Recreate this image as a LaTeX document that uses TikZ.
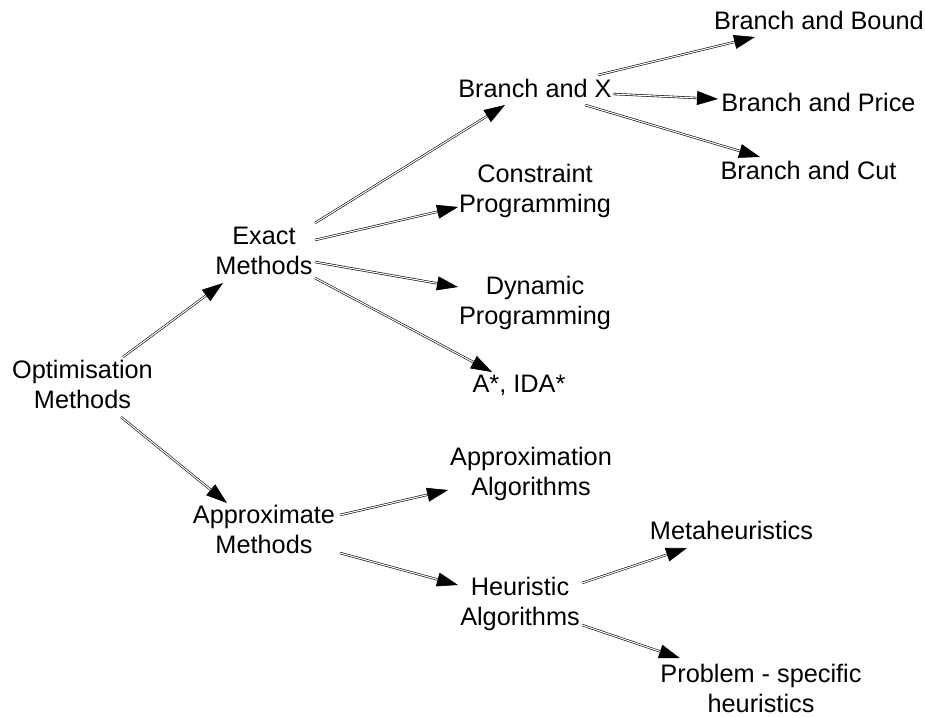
\documentclass[tikz,border=0pt]{standalone}
\usepackage{fontspec}
\setmainfont{Liberation Sans}
\usetikzlibrary{arrows.meta}
\begin{document}
\begin{tikzpicture}[x=1pt,y=-1pt,
  lbl/.style={align=center, inner sep=0pt, font=\fontsize{25.3}{30}\selectfont},
  conn/.style={draw=black, line width=0.6pt, double=white, double distance=1.1pt,
    -{Triangle[length=21pt,width=14pt]}}]
\useasboundingbox (0,0) rectangle (925,717);
\node[lbl] (opt) at (82.5,384.3) {Optimisation\\Methods};
\node[lbl] (exact) at (264,250.8) {Exact\\Methods};
\node[lbl] (approx) at (264,529.8) {Approximate\\Methods};
\node[lbl] (bx) at (535,88.8) {Branch and X};
\node[lbl] (cp) at (535,190.5) {Constraint\\Programming};
\node[lbl] (dp) at (535,302.5) {Dynamic\\Programming};
\node[lbl] (astar) at (519,385.3) {A*, IDA*};
\node[lbl] (bound) at (819,20.8) {Branch and Bound};
\node[lbl] (price) at (818.5,102.8) {Branch and Price};
\node[lbl] (cut) at (808.5,170.8) {Branch and Cut};
\node[lbl] (aalg) at (531,473.5) {Approximation\\Algorithms};
\node[lbl] (heur) at (520,603.5) {Heuristic\\Algorithms};
\node[lbl] (meta) at (731.5,530.8) {Metaheuristics};
\node[lbl] (prob) at (761,688.5) {Problem - specific\\heuristics};

\draw[conn] ([shift={(40.5,-27.3)}]opt.center) -- ([shift={(-41,32.2)}]exact.center);
\draw[conn] ([shift={(38.5,32.7)}]opt.center) -- ([shift={(-37,-26.8)}]approx.center);
\draw[conn] ([shift={(51,-27.8)}]exact.center) -- ([shift={(-30,16.2)}]bx.center);
\draw[conn] ([shift={(51,-10.8)}]exact.center) -- ([shift={(-77,16.5)}]cp.center);
\draw[conn] ([shift={(51,11.2)}]exact.center) -- ([shift={(-77,-15.5)}]dp.center);
\draw[conn] ([shift={(51,27.2)}]exact.center) -- ([shift={(-27,-13.3)}]astar.center);
\draw[conn] ([shift={(63,-13.8)}]bx.center) -- ([shift={(-64,16.2)}]bound.center);
\draw[conn] ([shift={(78,5.2)}]bx.center) -- ([shift={(-100.5,-3.8)}]price.center);
\draw[conn] ([shift={(50,16.2)}]bx.center) -- ([shift={(-48.5,-13.8)}]cut.center);
\draw[conn] ([shift={(76,-14.8)}]approx.center) -- ([shift={(-83,16.5)}]aalg.center);
\draw[conn] ([shift={(76,23.2)}]approx.center) -- ([shift={(-62,-18.5)}]heur.center);
\draw[conn] ([shift={(62,-20.5)}]heur.center) -- ([shift={(-44.5,17.2)}]meta.center);
\draw[conn] ([shift={(62,21.5)}]heur.center) -- ([shift={(-81,-30.3)}]prob.center);
\end{tikzpicture}
\end{document}
